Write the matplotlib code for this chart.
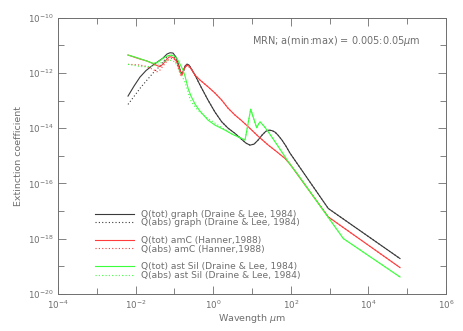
import numpy as np
import matplotlib
matplotlib.use("Agg")
import matplotlib.pyplot as plt
from matplotlib.ticker import FixedLocator, NullFormatter
from matplotlib.lines import Line2D

# values: log10(wavelength / um) and log10(extinction coefficient)
graph_tot_lx = [-2.196, -2.041, -1.887, -1.732, -1.552, -1.423, -1.294, -1.191, -1.113, -1.036,
                -0.959, -0.881, -0.830, -0.778, -0.727, -0.675, -0.624, -0.546, -0.469, -0.340,
                -0.134, 0.046, 0.219, 0.381, 0.562, 0.735, 0.845, 0.948, 1.052, 1.155,
                1.258, 1.361, 1.438, 1.515, 1.593, 1.670, 1.773, 1.876, 1.979, 2.966, 4.814]
graph_tot_ly = [-12.837, -12.475, -12.149, -11.913, -11.714, -11.587, -11.460, -11.315, -11.268, -11.279,
                -11.424, -11.750, -12.004, -11.967, -11.750, -11.678, -11.714, -11.895, -12.076, -12.438,
                -12.982, -13.417, -13.768, -13.996, -14.188, -14.406, -14.540, -14.612, -14.576, -14.431,
                -14.250, -14.105, -14.069, -14.087, -14.141, -14.250, -14.431, -14.649, -14.902, -16.906, -18.717]
# short-wavelength part of Q(abs); from 0.24 um on it lies on Q(tot)
graph_abs_lx = [-2.196, -2.015, -1.861, -1.706, -1.552, -1.423, -1.294, -1.191, -1.113, -1.036,
                -0.959, -0.881, -0.830, -0.778, -0.727, -0.675]
graph_abs_ly = [-13.138, -12.801, -12.511, -12.257, -12.004, -11.822, -11.605, -11.424, -11.351, -11.370,
                -11.496, -11.786, -12.040, -12.004, -11.786, -11.714]

amc_tot_lx = [-2.196, -2.041, -1.887, -1.706, -1.552, -1.448, -1.371, -1.294, -1.216, -1.139,
              -1.088, -1.010, -0.933, -0.856, -0.804, -0.753, -0.683, -0.624, -0.546, -0.469,
              -0.340, -0.134, 0.046, 0.219, 0.381, 0.562, 0.716, 0.905, 1.155, 1.420,
              1.619, 1.851, 1.979, 2.966, 4.814]
amc_tot_ly = [-11.351, -11.424, -11.496, -11.569, -11.659, -11.732, -11.775, -11.678, -11.533, -11.424,
              -11.413, -11.460, -11.605, -11.895, -12.076, -11.859, -11.714, -11.750, -11.895, -12.076,
              -12.257, -12.500, -12.728, -12.982, -13.272, -13.525, -13.707, -13.949, -14.286, -14.612,
              -14.830, -15.094, -15.301, -17.210, -19.043]
amc_abs_lx = [-2.196, -2.041, -1.887, -1.758, -1.629, -1.526, -1.448, -1.371, -1.294, -1.191,
              -1.088, -1.010, -0.933, -0.869, -0.830, -0.778, -0.714, -0.649, -0.598]
amc_abs_ly = [-11.688, -11.696, -11.714, -11.750, -11.822, -11.895, -11.957, -11.895, -11.750, -11.569,
              -11.471, -11.496, -11.678, -11.967, -12.130, -11.967, -11.768, -11.750, -11.822]

sil_tot_lx = [-2.196, -2.015, -1.861, -1.706, -1.552, -1.448, -1.371, -1.294, -1.191, -1.088,
              -1.010, -0.933, -0.856, -0.778, -0.727, -0.675, -0.642, -0.572, -0.469, -0.340,
              -0.134, 0.046, 0.304, 0.510, 0.735, 0.820, 0.966, 1.039, 1.121, 1.168,
              1.206, 1.309, 1.420, 1.670, 1.936, 2.193, 2.925, 3.353, 4.814]
sil_tot_ly = [-11.351, -11.424, -11.496, -11.569, -11.652, -11.623, -11.551, -11.471, -11.388, -11.351,
              -11.388, -11.478, -11.678, -11.895, -12.112, -12.402, -12.583, -12.837, -13.127, -13.380,
              -13.707, -13.888, -14.069, -14.232, -14.370, -14.431, -13.308, -13.634, -13.986, -13.851,
              -13.768, -13.924, -14.130, -14.649, -15.217, -15.699, -17.149, -17.993, -19.384]
sil_abs_lx = [-2.196, -2.015, -1.861, -1.714, -1.577, -1.448, -1.371, -1.242, -1.113, -1.010,
              -0.933, -0.856, -0.791, -0.727, -0.662, -0.598, -0.521, -0.418, -0.314, -0.186,
              -0.031, 0.124, 0.304]
sil_abs_ly = [-11.688, -11.732, -11.768, -11.775, -11.750, -11.696, -11.641, -11.569, -11.533, -11.587,
              -11.714, -11.967, -12.149, -12.330, -12.620, -12.946, -13.127, -13.308, -13.453, -13.598,
              -13.743, -13.888, -14.051]

labels = ["Q(tot) graph (Draine & Lee, 1984)", "Q(abs) graph (Draine & Lee, 1984)",
          "Q(tot) amC (Hanner,1988)", "Q(abs) amC (Hanner,1988)",
          "Q(tot) ast Sil (Draine & Lee, 1984)", "Q(abs) ast Sil (Draine & Lee, 1984)"]


def join_tail(lx, ly, tot_lx, tot_ly):
    # absorption curve follows the total curve past its last own point
    tail = [i for i, v in enumerate(tot_lx) if v > lx[-1] + 1e-3]
    return lx + [tot_lx[i] for i in tail], ly + [tot_ly[i] for i in tail]


grey = "#6e6e6e"
c_graph = "#3a3a3a"
c_amc = "#ff3b3b"
c_sil = "#3cff3c"
dots = (0, (1, 2))

plt.rcParams["font.family"] = "DejaVu Sans"
fig = plt.figure(figsize=(4.63, 3.31), dpi=100)
ax = fig.add_axes([0.1253, 0.1118, 0.838, 0.8347])

series = [
    (graph_tot_lx, graph_tot_ly, c_graph, "-"),
    (*join_tail(graph_abs_lx, graph_abs_ly, graph_tot_lx, graph_tot_ly), c_graph, dots),
    (amc_tot_lx, amc_tot_ly, c_amc, "-"),
    (*join_tail(amc_abs_lx, amc_abs_ly, amc_tot_lx, amc_tot_ly), c_amc, dots),
    (sil_tot_lx, sil_tot_ly, c_sil, "-"),
    (*join_tail(sil_abs_lx, sil_abs_ly, sil_tot_lx, sil_tot_ly), c_sil, dots),
]
handles = []
for (lx, ly, col, ls), lab in zip(series, labels):
    h, = ax.plot(10.0 ** np.array(lx), 10.0 ** np.array(ly), color=col, ls=ls, lw=0.8, label=lab)
    handles.append(h)

ax.set_xscale("log")
ax.set_yscale("log")
ax.set_xlim(1e-4, 1e6)
ax.set_ylim(1e-20, 1e-10)

ax.xaxis.set_major_locator(FixedLocator([10.0 ** e for e in range(-4, 7, 2)]))
ax.xaxis.set_minor_locator(FixedLocator([10.0 ** e for e in range(-3, 6, 2)]))
ax.yaxis.set_major_locator(FixedLocator([10.0 ** e for e in range(-20, -9, 2)]))
ax.yaxis.set_minor_locator(FixedLocator([10.0 ** e for e in range(-19, -10, 2)]))
ax.xaxis.set_minor_formatter(NullFormatter())
ax.yaxis.set_minor_formatter(NullFormatter())

ax.tick_params(which="both", direction="in", top=True, right=True, colors=grey,
               labelsize=6.3, width=0.6)
ax.tick_params(which="major", length=6, pad=3)
ax.tick_params(which="minor", length=4.5)
for sp in ax.spines.values():
    sp.set_color(grey)
    sp.set_linewidth(0.7)

ax.set_xlabel(r"Wavength $\mu$m", color=grey, fontsize=6.8, labelpad=1)
ax.set_ylabel("Extinction coefficient", color=grey, fontsize=6.8, labelpad=4)

ax.text(0.5, 0.915, r"MRN; a(min:max) = 0.005:0.05$\mu$m", transform=ax.transAxes,
        color=grey, fontsize=7, ha="left", va="center")

blank = Line2D([], [], color="none")
leg_handles = [handles[0], handles[1], blank, handles[2], handles[3], blank, handles[4], handles[5]]
leg_labels = [labels[0], labels[1], "", labels[2], labels[3], "", labels[4], labels[5]]
leg = ax.legend(leg_handles, leg_labels, loc="upper left", bbox_to_anchor=(0.095, 0.305),
                frameon=False, fontsize=6.6, handlelength=4.3, handletextpad=0.7,
                labelspacing=-0.03, borderpad=0, borderaxespad=0)
for t in leg.get_texts():
    t.set_color(grey)

fig.savefig("out.png", dpi=100)
